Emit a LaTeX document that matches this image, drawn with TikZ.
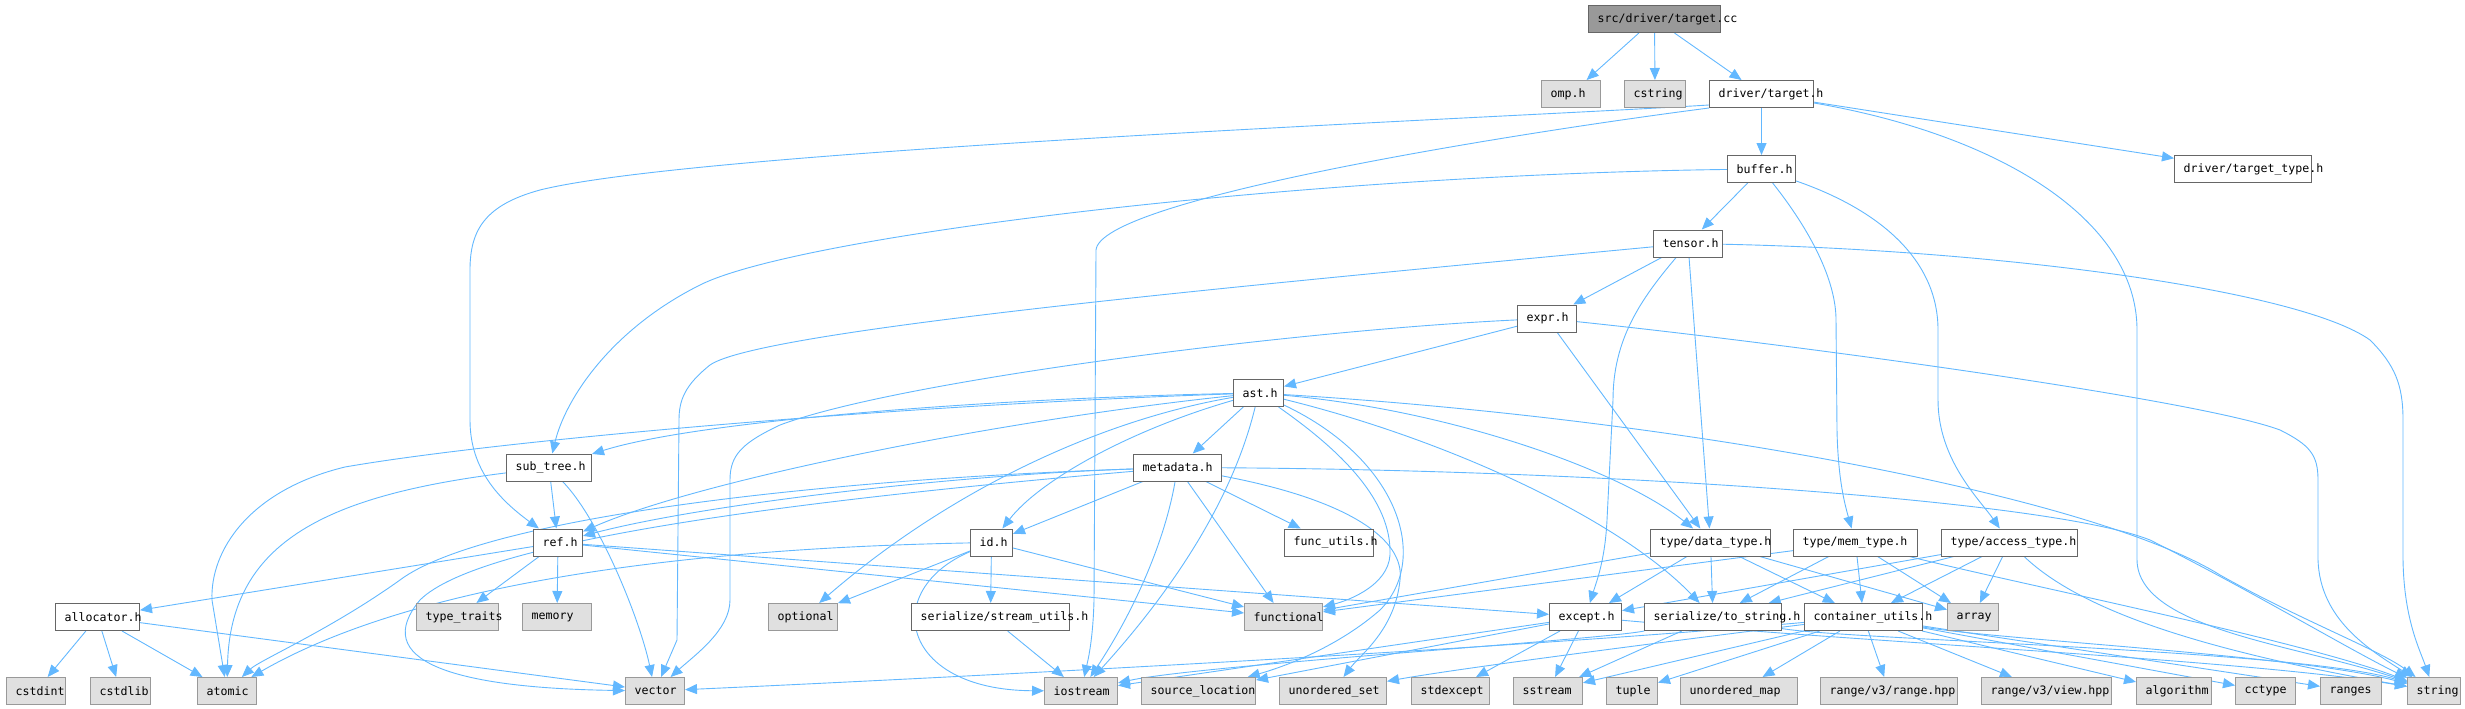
\documentclass[tikz,border=0pt]{standalone}
\usepackage{fontspec}
\usetikzlibrary{arrows.meta,backgrounds}
\newfontfamily\dmono{DejaVu Sans Mono}
\definecolor{ec}{HTML}{63B8FF}
\definecolor{bdark}{HTML}{666666}
\definecolor{blight}{HTML}{999999}
\definecolor{gfill}{HTML}{E0E0E0}
\definecolor{sfill}{HTML}{999999}
\tikzset{
  wbox/.style={draw=bdark, fill=white, line width=1pt, inner sep=0pt, minimum height=27pt},
  gbox/.style={draw=blight, fill=gfill, line width=1pt, inner sep=0pt, minimum height=27pt},
  dbox/.style={draw=bdark, fill=sfill, line width=1pt, inner sep=0pt, minimum height=27pt},
  lbl/.style={anchor=west, inner sep=0pt, text=black, font=\dmono\fontsize{11.6}{13}\selectfont},
  edg/.style={draw=ec, line width=0.9pt, -{Triangle[length=12pt,width=10pt]}},
}
\newcommand\mkbox[6]{%
  \node[#1, minimum width={(#4)-(#3)}, anchor=north west] (#2) at (#3,#5) {};
  \node[lbl] (#2-t) at ([xshift=9.5pt]#2.west) {#6};
}
\begin{document}
\begin{tikzpicture}[x=1pt,y=-1pt]
\useasboundingbox (0,0) rectangle (2465,709);
% ---------- nodes ----------
\mkbox{dbox}{src}{1588}{1720}{5}{src/driver/target.cc}
\mkbox{gbox}{omp}{1541}{1600}{80}{omp.h}
\mkbox{gbox}{cstring}{1624}{1685}{80}{cstring}
\mkbox{wbox}{dtarget}{1709}{1813}{80}{driver/target.h}
\mkbox{wbox}{buffer}{1727}{1795}{155}{buffer.h}
\mkbox{wbox}{ttype}{2174}{2311}{155}{driver/target\_type.h}
\mkbox{wbox}{tensor}{1653}{1722}{229.5}{tensor.h}
\mkbox{wbox}{expr}{1517}{1576}{304.5}{expr.h}
\mkbox{wbox}{ast}{1233}{1283}{379}{ast.h}
\mkbox{wbox}{subtree}{506}{591}{453.5}{sub\_tree.h}
\mkbox{wbox}{metadata}{1133}{1221}{453.5}{metadata.h}
\mkbox{wbox}{ref}{533}{582}{528.5}{ref.h}
\mkbox{wbox}{id}{970}{1012}{528.5}{id.h}
\mkbox{wbox}{funcutils}{1284}{1373}{528.5}{func\_utils.h}
\mkbox{wbox}{datatype}{1650}{1770}{528.5}{type/data\_type.h}
\mkbox{wbox}{memtype}{1793}{1917}{528.5}{type/mem\_type.h}
\mkbox{wbox}{accesstype}{1941}{2077}{528.5}{type/access\_type.h}
\mkbox{wbox}{allocator}{55}{139}{603}{allocator.h}
\mkbox{gbox}{typetraits}{416}{498}{603}{type\_traits}
\mkbox{gbox}{memory}{522}{591}{603}{memory}
\mkbox{gbox}{optional}{768}{837}{603}{optional}
\mkbox{wbox}{streamutils}{911}{1069}{603}{serialize/stream\_utils.h}
\mkbox{gbox}{functional}{1244}{1322}{603}{functional}
\mkbox{wbox}{except}{1549}{1621}{603}{except.h}
\mkbox{wbox}{tostring}{1644}{1781}{603}{serialize/to\_string.h}
\mkbox{wbox}{containerutils}{1804}{1922}{603}{container\_utils.h}
\mkbox{gbox}{array}{1947}{1998}{603}{array}
\mkbox{gbox}{cstdint}{6}{65}{677}{cstdint}
\mkbox{gbox}{cstdlib}{90}{150}{677}{cstdlib}
\mkbox{gbox}{atomic}{197}{256}{677}{atomic}
\mkbox{gbox}{vector}{625}{684}{677}{vector}
\mkbox{gbox}{iostream}{1044}{1117}{677}{iostream}
\mkbox{gbox}{sourceloc}{1141}{1255}{677}{source\_location}
\mkbox{gbox}{uset}{1279}{1386}{677}{unordered\_set}
\mkbox{gbox}{stdexcept}{1411}{1489}{677}{stdexcept}
\mkbox{gbox}{sstream}{1513}{1582}{677}{sstream}
\mkbox{gbox}{tuple}{1606}{1657}{677}{tuple}
\mkbox{gbox}{umap}{1680}{1797}{677}{unordered\_map}
\mkbox{gbox}{rangehpp}{1820}{1957}{677}{range/v3/range.hpp}
\mkbox{gbox}{viewhpp}{1981}{2111}{677}{range/v3/view.hpp}
\mkbox{gbox}{algorithm}{2136}{2211}{677}{algorithm}
\mkbox{gbox}{cctype}{2235}{2295}{677}{cctype}
\mkbox{gbox}{ranges}{2320}{2381}{677}{ranges}
\mkbox{gbox}{string}{2407}{2460}{677}{string}
% ---------- edges ----------
\begin{pgfonlayer}{background}
\draw[edg] (src) -- (omp);
\draw[edg] (src) -- (cstring);
\draw[edg] (src) -- (dtarget);
\draw[edg] (dtarget) -- (buffer);
\draw[edg] (dtarget) -- (ttype);
\draw[edg] (dtarget) .. controls (2000,135) and (2137,220) .. (2137,330) -- (2137,560) .. controls (2138,630) and (2300,645) .. (string);
\draw[edg] ([yshift=3pt]dtarget.south west) .. controls (1500,118) and (700,150) .. (540,190) .. controls (485,205) and (470,230) .. (470,270) -- (470,420) .. controls (470,470) and (500,500) .. (ref);
\draw[edg] (dtarget.south west) .. controls (1500,135) and (1100,200) .. (1096,250) -- (1094,600) .. controls (1093,640) and (1088,660) .. (iostream);
\draw[edg] (buffer) -- (tensor);
\draw[edg] (buffer) .. controls (1300,175) and (800,235) .. (700,285) .. controls (610,330) and (565,400) .. (subtree);
\draw[edg] (buffer) .. controls (1810,230) and (1836,280) .. (1836,320) -- (1837,430) .. controls (1838,480) and (1845,505) .. (memtype);
\draw[edg] (buffer) .. controls (1880,210) and (1938,260) .. (1938,330) -- (1938,400) .. controls (1938,460) and (1980,500) .. (accesstype);
\draw[edg] (tensor) -- (expr);
\draw[edg] (tensor) .. controls (1250,285) and (760,330) .. (710,365) .. controls (685,385) and (679,400) .. (679,420) -- (677,640) -- (vector);
\draw[edg] (tensor) .. controls (1640,300) and (1613,340) .. (1613,400) -- (1607,520) .. controls (1605,560) and (1597,580) .. (except);
\draw[edg] (tensor) -- (datatype);
\draw[edg] (tensor) .. controls (2000,250) and (2300,290) .. (2370,340) .. controls (2395,365) and (2403,385) .. (2403,420) -- (2403,560) .. controls (2404,620) and (2420,650) .. (string);
\draw[edg] (expr) -- (ast);
\draw[edg] (expr) .. controls (1300,330) and (900,380) .. (780,425) .. controls (742,443) and (730,455) .. (730,480) -- (730,600) .. controls (730,630) and (695,655) .. (vector);
\draw[edg] (expr) -- (datatype);
\draw[edg] (expr) .. controls (1800,345) and (2200,400) .. (2280,430) .. controls (2310,445) and (2318,455) .. (2318,480) -- (2318,560) .. controls (2320,620) and (2370,650) .. (string);
% ast.h
\draw[edg] (ast) -- (metadata);
\draw[edg] (ast) .. controls (1000,398) and (700,420) .. (subtree);
\draw[edg] (ast) .. controls (900,405) and (500,440) .. (345,467) .. controls (250,490) and (210,550) .. (212,600) -- (atomic);
\draw[edg] (ast) .. controls (1000,420) and (700,480) .. (ref);
\draw[edg] (ast) .. controls (1130,430) and (1040,480) .. (id);
\draw[edg] (ast) .. controls (1100,420) and (950,490) .. (optional);
\draw[edg] (ast) .. controls (1240,470) and (1200,560) .. (iostream);
\draw[edg] (ast) .. controls (1340,450) and (1392,500) .. (1390,555) .. controls (1388,585) and (1350,600) .. (functional);
\draw[edg] (ast) .. controls (1400,460) and (1430,560) .. (1380,610) .. controls (1340,645) and (1290,665) .. (sourceloc);
\draw[edg] (ast) .. controls (1450,410) and (1620,470) .. (datatype);
\draw[edg] (ast) .. controls (1450,440) and (1620,520) .. (tostring);
\draw[edg] (ast) .. controls (1700,420) and (2100,500) .. (2220,575) .. controls (2300,620) and (2380,650) .. (string);
% metadata.h
\draw[edg] (metadata) -- (id);
\draw[edg] (metadata) -- (funcutils);
\draw[edg] (metadata) -- (functional);
\draw[edg] (metadata) .. controls (1165,540) and (1135,610) .. (iostream);
\draw[edg] (metadata) .. controls (1350,500) and (1405,540) .. (1400,580) .. controls (1395,630) and (1360,655) .. (uset);
\draw[edg] (metadata) .. controls (1600,470) and (2050,500) .. (2150,540) .. controls (2250,590) and (2350,650) .. (string);
\draw[edg] (metadata) .. controls (950,475) and (700,505) .. (ref);
\draw[edg] (metadata) .. controls (800,500) and (480,540) .. (420,600) .. controls (370,660) and (450,688) .. (vector);
\draw[edg] (metadata) .. controls (800,480) and (480,520) .. (400,580) .. controls (330,630) and (260,660) .. (atomic);
% id.h
\draw[edg] (id) -- (streamutils);
\draw[edg] (id) -- (functional);
\draw[edg] (id) .. controls (880,590) and (900,690) .. (iostream);
\draw[edg] (id) -- (optional);
\draw[edg] (id) .. controls (700,548) and (420,580) .. (atomic);
% sub_tree.h
\draw[edg] (subtree) -- (ref);
\draw[edg] (subtree) .. controls (600,520) and (640,620) .. (vector);
\draw[edg] (subtree) .. controls (330,495) and (230,540) .. (atomic);
% ref.h
\draw[edg] (ref) -- (allocator);
\draw[edg] (ref) -- (typetraits);
\draw[edg] (ref) -- (memory);
\draw[edg] (ref) -- (functional);
\draw[edg] (ref) -- (except);
% allocator.h
\draw[edg] (allocator) -- (cstdint);
\draw[edg] (allocator) -- (cstdlib);
\draw[edg] (allocator) -- (atomic);
\draw[edg] (allocator) -- (vector);
\draw[edg] (streamutils) -- (iostream);
% type headers
\draw[edg] (datatype) -- (functional);
\draw[edg] (datatype) -- (except);
\draw[edg] (datatype) -- (tostring);
\draw[edg] (datatype) -- (containerutils);
\draw[edg] (datatype) -- (array);
\draw[edg] (memtype) -- (functional);
\draw[edg] (memtype) -- (tostring);
\draw[edg] (memtype) -- (containerutils);
\draw[edg] (memtype) -- (array);
\draw[edg] (memtype) .. controls (2000,580) and (2300,640) .. (string);
\draw[edg] (accesstype) -- (except);
\draw[edg] (accesstype) -- (tostring);
\draw[edg] (accesstype) -- (containerutils);
\draw[edg] (accesstype) -- (array);
\draw[edg] (accesstype) .. controls (2080,610) and (2200,650) .. (string);
% except.h
\draw[edg] (except) -- (iostream);
\draw[edg] (except) -- (sourceloc);
\draw[edg] (except) -- (stdexcept);
\draw[edg] (except) -- (sstream);
\draw[edg] (except) .. controls (1900,645) and (2250,660) .. (string);
% to_string.h
\draw[edg] (tostring) .. controls (1600,640) and (1200,665) .. (iostream);
\draw[edg] (tostring) -- (sstream);
\draw[edg] (tostring) .. controls (1850,640) and (2300,650) .. (string);
% container_utils.h
\draw[edg] (containerutils) .. controls (1500,650) and (900,680) .. (vector);
\draw[edg] (containerutils) .. controls (1600,650) and (1450,670) .. (uset);
\draw[edg] (containerutils) -- (sstream);
\draw[edg] (containerutils) -- (tuple);
\draw[edg] (containerutils) -- (umap);
\draw[edg] (containerutils) -- (rangehpp);
\draw[edg] (containerutils) -- (viewhpp);
\draw[edg] (containerutils) -- (algorithm);
\draw[edg] (containerutils) -- (cctype);
\draw[edg] (containerutils) -- (ranges);
\draw[edg] (containerutils) .. controls (2000,640) and (2300,655) .. (string);
\end{pgfonlayer}
\end{tikzpicture}
\end{document}
